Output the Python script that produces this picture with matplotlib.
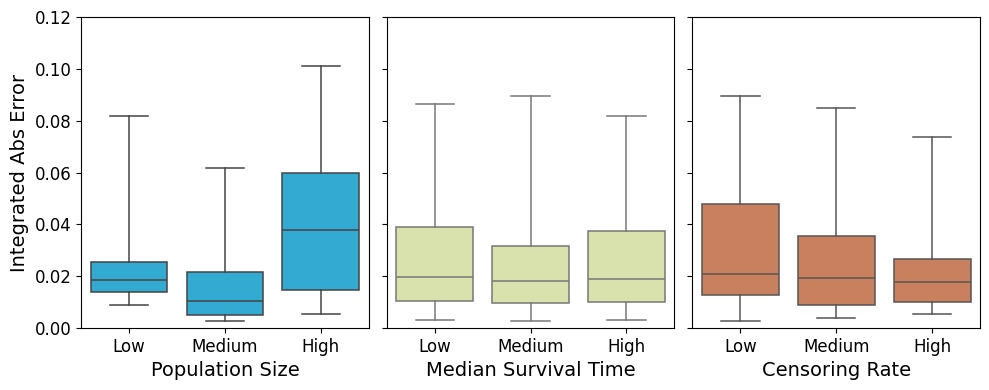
import matplotlib.pyplot as plt

categories = ['Low', 'Medium', 'High']
panel_titles = ['Population Size', 'Median Survival Time', 'Censoring Rate']

# whisker low, Q1, median, Q3, whisker high per category
pop_low = [0.0090, 0.0027, 0.0055]
pop_q1 = [0.0139, 0.0051, 0.0147]
pop_med = [0.0185, 0.0104, 0.0379]
pop_q3 = [0.0253, 0.0215, 0.0598]
pop_high = [0.0818, 0.0617, 0.1011]

surv_low = [0.0032, 0.0027, 0.0032]
surv_q1 = [0.0104, 0.0096, 0.0100]
surv_med = [0.0198, 0.0181, 0.0189]
surv_q3 = [0.0390, 0.0316, 0.0376]
surv_high = [0.0864, 0.0895, 0.0818]

cens_low = [0.0027, 0.0040, 0.0055]
cens_q1 = [0.0127, 0.0090, 0.0100]
cens_med = [0.0208, 0.0193, 0.0177]
cens_q3 = [0.0478, 0.0355, 0.0268]
cens_high = [0.0895, 0.0849, 0.0738]

fills = ['#33AAD2', '#D9E1AC', '#C8805E']
edges = ['#444444', '#777777', '#555555']

data = [
    (pop_low, pop_q1, pop_med, pop_q3, pop_high),
    (surv_low, surv_q1, surv_med, surv_q3, surv_high),
    (cens_low, cens_q1, cens_med, cens_q3, cens_high),
]

fig, axes = plt.subplots(1, 3, figsize=(9.89, 3.9), dpi=100, sharey=True)
plt.subplots_adjust(left=0.082, right=0.991, top=0.956, bottom=0.159, wspace=0.0625)

for i, ax in enumerate(axes):
    lo, q1, med, q3, hi = data[i]
    stats = []
    for j in range(len(categories)):
        stats.append({'whislo': lo[j], 'q1': q1[j], 'med': med[j],
                      'q3': q3[j], 'whishi': hi[j], 'fliers': []})
    ec = edges[i]
    ax.bxp(stats, positions=range(3), widths=0.8, capwidths=0.4,
           patch_artist=True, showfliers=False,
           boxprops=dict(facecolor=fills[i], edgecolor=ec, linewidth=1.1),
           medianprops=dict(color=ec, linewidth=1.1),
           whiskerprops=dict(color=ec, linewidth=1.1),
           capprops=dict(color=ec, linewidth=1.1))
    ax.set_xlim(-0.5, 2.5)
    ax.set_xticks(range(3))
    ax.set_xticklabels(categories, fontsize=12)
    ax.set_xlabel(panel_titles[i], fontsize=14)
    ax.tick_params(axis='y', labelsize=12)

axes[0].set_ylim(0, 0.12)
axes[0].set_yticks([0, 0.02, 0.04, 0.06, 0.08, 0.10, 0.12])
axes[0].set_yticklabels(['0.00', '0.02', '0.04', '0.06', '0.08', '0.10', '0.12'])
axes[0].set_ylabel('Integrated Abs Error', fontsize=14)

plt.savefig('out.png', dpi=100)
